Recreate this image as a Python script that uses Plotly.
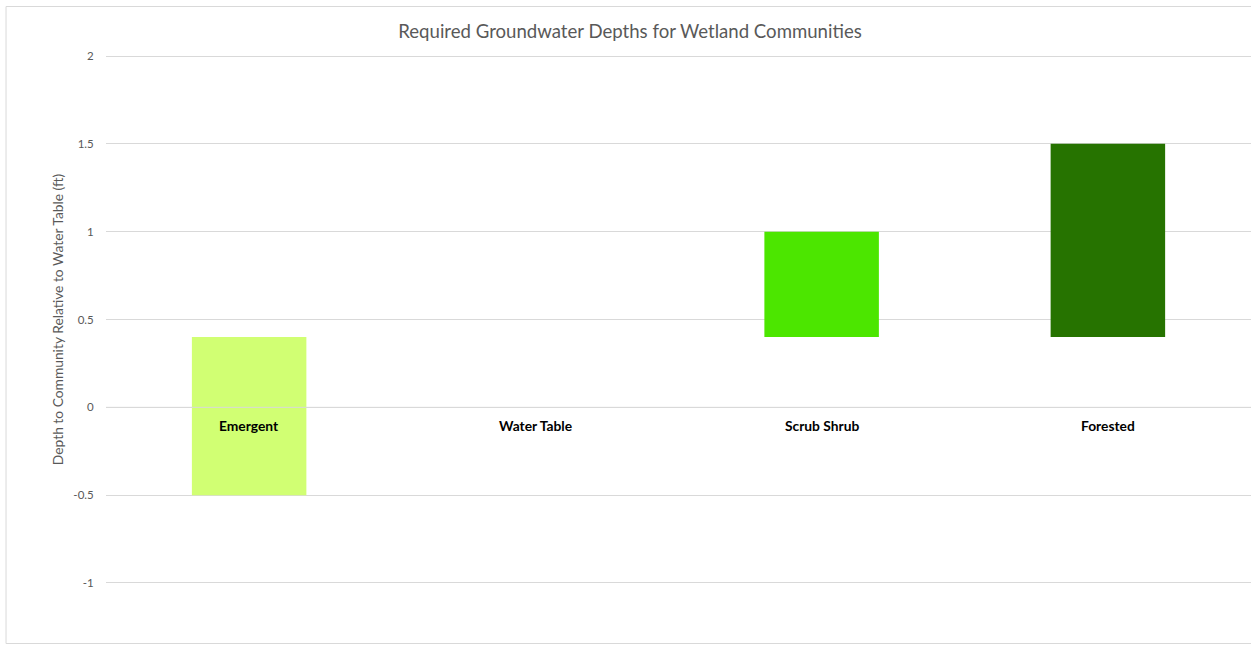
import plotly.graph_objects as go

categories = ["Emergent", "Water Table", "Scrub Shrub", "Forested"]
lower = [-0.5, None, 0.4, 0.4]
upper = [0.4, None, 1.0, 1.5]
colors = ["#D1FF73", "#FFFFFF", "#4CE600", "#267300"]
y_ticks = [-1, -0.5, 0, 0.5, 1, 1.5, 2]
y_tick_labels = ["-1", "-0.5", "0", "0.5", "1", "1.5", "2"]

heights = [(u - l) if (u is not None and l is not None) else None for l, u in zip(lower, upper)]

fig = go.Figure()
fig.add_trace(go.Bar(
    x=categories, y=heights, base=lower,
    marker=dict(color=colors, line=dict(width=0)),
    width=0.4, showlegend=False, hoverinfo="skip",
))

for c in categories:
    fig.add_annotation(x=c, y=0, xref="x", yref="y", text="<b>%s</b>" % c,
                       showarrow=False, yanchor="top", yshift=-8,
                       font=dict(family="Lato", size=13.8, color="#000000"))

# horizontal category axis line at zero, drawn above the bars
fig.add_shape(type="line", xref="paper", yref="y", x0=0, x1=1, y0=0, y1=0,
              line=dict(color="#D9D9D9", width=1), layer="above")

# chart outer border (plot area spans y 54..585 px)
fig.add_shape(type="rect", xref="paper", yref="paper",
              x0=-0.0873, x1=1.01, y0=-(58.5 / 531), y1=1 + (47.5 / 531),
              line=dict(color="#D9D9D9", width=1), fillcolor="rgba(0,0,0,0)", layer="below")

fig.update_layout(
    width=1251, height=645,
    margin=dict(l=106, r=0, t=54, b=60),
    paper_bgcolor="white", plot_bgcolor="white",
    title=dict(text="Required Groundwater Depths for Wetland Communities",
               x=630 / 1251, xref="container", xanchor="center", y=1 - 31 / 645, yanchor="middle",
               font=dict(family="Lato", size=18.6, color="#595959")),
    font=dict(family="Lato", color="#595959"),
    xaxis=dict(range=[-0.5, 3.5], showticklabels=False, showgrid=False,
               zeroline=False, showline=False, ticks=""),
    yaxis=dict(range=[-1.0115, 2.0115], tickvals=y_ticks, ticktext=y_tick_labels,
               showgrid=True, gridcolor="#D9D9D9", gridwidth=1,
               zeroline=False, showline=False,
               ticks="outside", ticklen=9, tickcolor="rgba(0,0,0,0)",
               tickfont=dict(family="Lato", size=11.5, color="#595959"),
               title=dict(text="Depth to Community Relative to Water Table (ft)",
                          font=dict(family="Lato", size=13.8, color="#595959"),
                          standoff=6)),
)

fig.write_html("out.html")
